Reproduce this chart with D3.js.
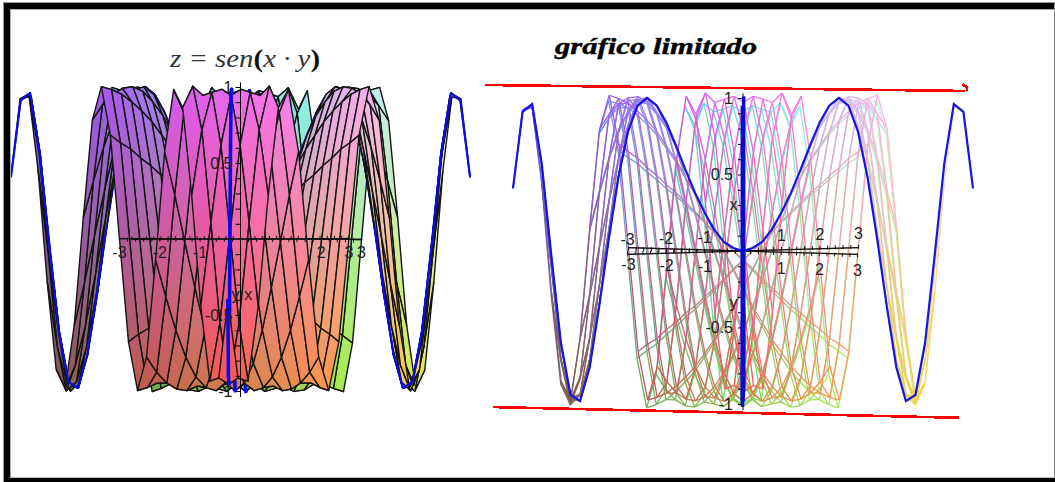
<!DOCTYPE html>
<html>
<head>
<meta charset="utf-8">
<script src="https://cdn.jsdelivr.net/npm/d3@7"></script>
<style>
html, body { margin: 0; padding: 0; background: #fff; overflow: hidden; }
svg { display: block; }
text { font-family: "Liberation Sans", sans-serif; }
.lbl { font-size: 16px; fill: #222; }
.axis text { font-family: "Liberation Sans", sans-serif; font-size: 16px; fill: #222; }
.axis path, .axis line { stroke: #000; }
</style>
</head>
<body>
<svg id="chart" width="1055" height="482"></svg>
<script>
// grid of the surface, one step = 0.25 on x and y
var gridStep = 0.25;
var gridMax = 12;

// z read along the sheet x = c, for y = 0.25 ... 3
var sheetC025 = [.06, .12, .19, .25, .31, .37, .42, .48, .53, .59, .63, .68];
var sheetC050 = [.12, .25, .37, .48, .59, .68, .77, .84, .90, .95, .98, 1.00];
var sheetC075 = [.19, .37, .53, .68, .81, .90, .97, 1.00, .99, .95, .88, .78];
var sheetC100 = [.25, .48, .68, .84, .95, 1.00, .98, .91, .78, .60, .38, .14];
var sheetC125 = [.31, .59, .81, .95, 1.00, .95, .82, .60, .32, .02, -.29, -.57];
var sheetC150 = [.37, .68, .90, 1.00, .95, .78, .49, .14, -.23, -.57, -.83, -.98];
var sheetC175 = [.42, .77, .97, .98, .82, .49, .08, -.35, -.71, -.94, -1.00, -.86];
var sheetC200 = [.48, .84, 1.00, .91, .60, .14, -.35, -.76, -.98, -.96, -.71, -.28];
var sheetC225 = [.53, .90, .99, .78, .32, -.23, -.71, -.98, -.94, -.61, -.10, .45];
var sheetC250 = [.59, .95, .95, .60, .02, -.57, -.94, -.96, -.61, -.03, .56, .94];
var sheetC275 = [.63, .98, .88, .38, -.29, -.83, -1.00, -.71, -.10, .56, .96, .92];
var sheetC300 = [.68, 1.00, .78, .14, -.57, -.98, -.86, -.28, .45, .94, .92, .41];
var sheets = [sheetC025, sheetC050, sheetC075, sheetC100, sheetC125, sheetC150,
              sheetC175, sheetC200, sheetC225, sheetC250, sheetC275, sheetC300];

// blue curve: z along x = y, for x = 0, 0.125 ... 3
var curveStep = 0.125;
var curveZ = [0, .02, .06, .14, .25, .38, .53, .69, .84, .95, 1.00, .95, .78, .48, .08,
              -.36, -.76, -.98, -.94, -.60, -.03, .57, .96, .91, .41];

var zTicks = [1, .9, .8, .7, .6, .5, .4, .3, .2, .1, -.1, -.2, -.3, -.4, -.5, -.6, -.7, -.8, -.9, -1];
var zLabels = [1, .5, -.5, -1];
var zAxisEnds = [-1.04, 1.03];
var xyAxisEnds = [-3, 3];
var xyTicks = [-3, -2.8, -2.6, -2.4, -2.2, -2, -1.8, -1.6, -1.4, -1.2, -1, -.8, -.6, -.4, -.2,
               .2, .4, .6, .8, 1, 1.2, 1.4, 1.6, 1.8, 2, 2.2, 2.4, 2.6, 2.8, 3];
var rightXLabels = [-3, -2, -1, 1, 2, 3];
var rightYLabels = [-3, -2, -1, 1, 2, 3];
var leftXLabels = [3];
var leftYLabels = [-3, -2, -1, 2, 3];

// red limits of the second plot, in its own u / z units
var limitTopU = [-6.73, 5.8];
var limitTopZ = [1.085, 1.046];
var limitHookU = [5.72, 5.84, 5.84];
var limitHookZ = [1.09, 1.07, 1.046];
var limitBottomU = [-6.52, 5.63];
var limitBottomZ = [-1.02, -1.09];

var svg = d3.select('#chart');
var defs = svg.append('defs');

// colour follows x, y and z of the point
var redOf = d3.scaleLinear().domain([-3, 3]).range([105, 250]);
var greenOf = d3.scaleLinear().domain([-3, 3]).range([88, 238]);
var blueOf = d3.scaleLinear().domain([-1, 1]).range([75, 240]);
function colour(x, y, z){
    return d3.rgb(redOf(x), greenOf(y), blueOf(z)).formatHex();
}

function zAt(i, j){
    if (i === 0 || j === 0) return 0;
    var s = (i * j > 0) ? 1 : -1;
    return s * sheets[Math.abs(i) - 1][Math.abs(j) - 1];
}

function makePanel(uRange, zRange, tilt, elev){
    var p = {};
    p.u = d3.scaleLinear().domain([-6, 6]).range(uRange);
    p.z = d3.scaleLinear().domain([-1, 1]).range(zRange);
    p.tilt = tilt;
    p.elev = elev;
    p.project = function(x, y, z){
        return [p.u(x + y + tilt * (x - y)), p.z(z) + elev * (y - x)];
    };
    p.grid = function(i, j){
        return p.project(i * gridStep, j * gridStep, zAt(i, j));
    };
    p.diag = function(k){
        return p.project(k * curveStep, k * curveStep, curveZ[Math.abs(k)]);
    };
    p.anti = function(k){
        return p.project(k * curveStep, -k * curveStep, -curveZ[Math.abs(k)]);
    };
    return p;
}

var leftPanel = makePanel([11, 470], [391, 87], -0.055, 0.15);
var rightPanel = makePanel([513, 973], [404, 98], 0.004, 1.1);

var curveMax = curveZ.length - 1;
var lineGen = d3.line();

function drawLeftSurface(p){
    var items = [];
    var i, j, k;
    for (i = -gridMax; i < gridMax; i++){
        for (j = -gridMax; j < gridMax; j++){
            items.push({type: 'quad', i: i, j: j, depth: (j - i) * gridStep});
        }
    }
    for (k = -curveMax; k < curveMax; k++){
        // outer lobes of the blue curve stay on top of the mesh
        var outer = (k >= 14 || k < -14);
        items.push({type: 'diag', k: k, depth: outer ? -99 : -0.02});
        items.push({type: 'anti', k: k, depth: (-2 * k - 1) * curveStep - 0.3});
    }
    items.sort(function(a, b){ return b.depth - a.depth; });

    var g = svg.append('g');
    items.forEach(function(d, n){
        if (d.type !== 'quad'){
            g.append('path')
                .attr('d', lineGen([p[d.type](d.k), p[d.type](d.k + 1)]))
                .attr('fill', 'none')
                .attr('stroke', '#0a0aee')
                .attr('stroke-linecap', 'round')
                .attr('stroke-width', d.type === 'diag' ? 2.2 : 3.6);
            return;
        }
        var corners = [[d.i, d.j], [d.i + 1, d.j], [d.i + 1, d.j + 1], [d.i, d.j + 1]];
        var pts = corners.map(function(c){ return p.grid(c[0], c[1]); });
        var zs = corners.map(function(c){ return zAt(c[0], c[1]); });
        var xm = (d.i + 0.5) * gridStep, ym = (d.j + 0.5) * gridStep;
        var zLo = d3.min(zs), zHi = d3.max(zs);
        var id = 'q' + n;
        var grad = defs.append('linearGradient')
            .attr('id', id)
            .attr('gradientUnits', 'userSpaceOnUse')
            .attr('x1', 0).attr('x2', 0)
            .attr('y1', p.z(zHi)).attr('y2', p.z(zLo) + 0.01);
        grad.append('stop').attr('offset', 0).attr('stop-color', colour(xm, ym, zHi));
        grad.append('stop').attr('offset', 1).attr('stop-color', colour(xm, ym, zLo));
        g.append('path')
            .attr('d', lineGen(pts) + 'Z')
            .attr('fill', 'url(#' + id + ')')
            .attr('stroke', '#141414')
            .attr('stroke-width', 1.4)
            .attr('stroke-linejoin', 'round');
    });
}

function drawWire(p){
    var g = svg.append('g');
    var segs = [];
    var c, k;
    for (c = -gridMax; c <= gridMax; c++){
        for (k = -gridMax; k < gridMax; k++){
            segs.push([c, k, c, k + 1]);
            segs.push([k, c, k + 1, c]);
        }
    }
    segs.sort(function(a, b){ return (b[1] - b[0]) - (a[1] - a[0]); });
    g.selectAll('path').data(segs).enter().append('path')
        .attr('d', function(s){ return lineGen([p.grid(s[0], s[1]), p.grid(s[2], s[3])]); })
        .attr('fill', 'none')
        .attr('stroke-width', 1.3)
        .attr('stroke', function(s){
            var x = (s[0] + s[2]) / 2 * gridStep, y = (s[1] + s[3]) / 2 * gridStep;
            return colour(x, y, (zAt(s[0], s[1]) + zAt(s[2], s[3])) / 2);
        });
}

function drawBlueCurves(p, diagWidth, antiWidth){
    var diag = d3.range(-curveMax, curveMax + 1).map(p.diag);
    var anti = d3.range(-curveMax, curveMax + 1).map(p.anti);
    svg.append('path').attr('d', lineGen(diag)).attr('fill', 'none')
        .attr('stroke', '#1515e6').attr('stroke-width', diagWidth);
    svg.append('path').attr('d', lineGen(anti)).attr('fill', 'none')
        .attr('stroke', '#0a0ad0').attr('stroke-width', antiWidth);
}

function drawAxes(p, tickSize, pad){
    var cx = p.project(0, 0, 0)[0];
    var zAxis = d3.axisLeft(p.z)
        .tickValues(zTicks)
        .tickSize(tickSize)
        .tickPadding(pad)
        .tickFormat(function(d){ return zLabels.indexOf(d) >= 0 ? d : ''; });
    svg.append('g').attr('class', 'axis')
        .attr('transform', 'translate(' + cx + ',0)')
        .call(zAxis)
        .call(function(a){ a.select('.domain').remove(); });
    svg.append('path')
        .attr('d', lineGen(zAxisEnds.map(function(z){ return p.project(0, 0, z); })))
        .attr('stroke', '#000').attr('stroke-width', 1);

    var g = svg.append('g');
    g.append('path').attr('d', lineGen(xyAxisEnds.map(function(t){ return p.project(t, 0, 0); })))
        .attr('stroke', '#111').attr('fill', 'none').attr('stroke-width', 1.3);
    g.append('path').attr('d', lineGen(xyAxisEnds.map(function(t){ return p.project(0, t, 0); })))
        .attr('stroke', '#111').attr('fill', 'none').attr('stroke-width', 1.3);
    xyTicks.forEach(function(t){
        var a = p.project(t, 0, 0), b = p.project(0, t, 0);
        g.append('path').attr('d', lineGen([[a[0], a[1] - 3], [a[0], a[1] + 1]])).attr('stroke', '#111');
        g.append('path').attr('d', lineGen([[b[0], b[1] - 1], [b[0], b[1] + 3]])).attr('stroke', '#111');
    });
}

function tickText(p, values, onX, dy){
    values.forEach(function(t){
        var q = onX ? p.project(t, 0, 0) : p.project(0, t, 0);
        svg.append('text').attr('class', 'lbl')
            .attr('x', q[0]).attr('y', q[1] + dy)
            .attr('text-anchor', 'middle')
            .text(t);
    });
}

function axisName(p, name, u, z){
    svg.append('text').attr('class', 'lbl')
        .attr('x', p.u(u)).attr('y', p.z(z) + 5)
        .attr('text-anchor', 'middle')
        .text(name);
}

// first plot: filled patches with black mesh
drawLeftSurface(leftPanel);
drawAxes(leftPanel, 5, 3);
tickText(leftPanel, leftYLabels, false, 19);
tickText(leftPanel, leftXLabels, true, 19);
axisName(leftPanel, 'y', -0.13, -0.37);
axisName(leftPanel, 'x', 0.2, -0.37);

// second plot: wireframe only
drawWire(rightPanel);
drawAxes(rightPanel, 5, 5);
drawBlueCurves(rightPanel, 2.2, 3.4);
tickText(rightPanel, rightXLabels, true, -9);
tickText(rightPanel, rightYLabels, false, 22);
axisName(rightPanel, 'x', -0.25, 0.3);
axisName(rightPanel, 'y', -0.25, -0.34);

// red limits
function redLine(us, zs, w){
    var pts = us.map(function(u, i){ return [rightPanel.u(u), rightPanel.z(zs[i])]; });
    svg.append('path').attr('d', lineGen(pts)).attr('fill', 'none')
        .attr('stroke', '#f00').attr('stroke-width', w)
        .attr('shape-rendering', 'crispEdges');
}
redLine(limitTopU, limitTopZ, 2.6);
redLine(limitHookU, limitHookZ, 2.6);
redLine(limitBottomU, limitBottomZ, 2.6);

// titles
var t1 = svg.append('text').attr('x', 170).attr('y', 67)
    .attr('textLength', 150).attr('lengthAdjust', 'spacingAndGlyphs')
    .style('font-family', '"Liberation Serif", serif')
    .style('font-style', 'italic')
    .style('font-size', '25px')
    .attr('fill', '#333');
t1.append('tspan').text('z = sen');
t1.append('tspan').style('font-weight', 'bold').style('font-style', 'normal').attr('fill', '#111').text('(');
t1.append('tspan').text('x · y');
t1.append('tspan').style('font-weight', 'bold').style('font-style', 'normal').attr('fill', '#111').text(')');

svg.append('text').attr('x', 555).attr('y', 54)
    .attr('textLength', 202).attr('lengthAdjust', 'spacingAndGlyphs')
    .style('font-family', '"Liberation Serif", serif')
    .style('font-style', 'italic')
    .style('font-weight', 'bold')
    .style('font-size', '23px')
    .attr('fill', '#000')
    .attr('stroke', '#000').attr('stroke-width', 0.4)
    .text('gráfico limitado');

// picture frame
var frame = svg.append('g');
frame.append('rect').attr('x', 3).attr('y', 2).attr('width', 1052).attr('height', 1).attr('fill', '#999');
frame.append('rect').attr('x', 3).attr('y', 2).attr('width', 1).attr('height', 480).attr('fill', '#999');
frame.append('rect').attr('x', 4).attr('y', 3).attr('width', 1051).attr('height', 6).attr('fill', '#000');
frame.append('rect').attr('x', 4).attr('y', 3).attr('width', 6).attr('height', 479).attr('fill', '#000');
frame.append('rect').attr('x', 4).attr('y', 478).attr('width', 1051).attr('height', 4).attr('fill', '#000');
frame.append('rect').attr('x', 10).attr('y', 9).attr('width', 1044).attr('height', 1).attr('fill', '#aaa');
frame.append('rect').attr('x', 10).attr('y', 9).attr('width', 1).attr('height', 469).attr('fill', '#aaa');
frame.append('rect').attr('x', 10).attr('y', 477).attr('width', 1044).attr('height', 1).attr('fill', '#bbb');
frame.append('rect').attr('x', 1054).attr('y', 2).attr('width', 1).attr('height', 476).attr('fill', '#888');
</script>
</body>
</html>
